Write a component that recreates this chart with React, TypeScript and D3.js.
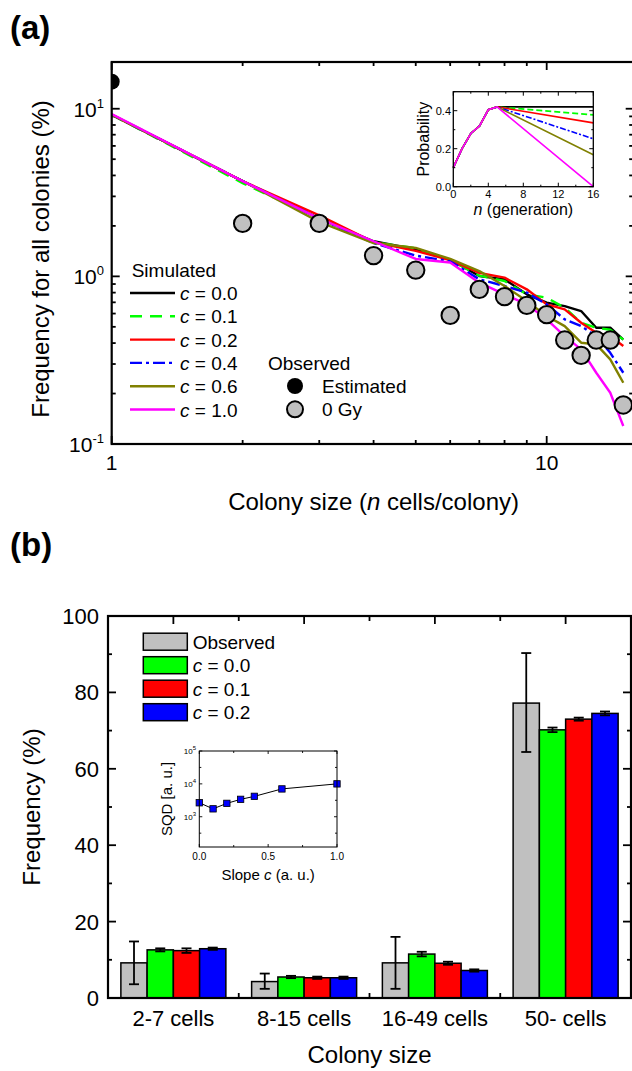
import React from "react";
import * as d3 from "d3";

// ---------- Panel (a) data ----------
const colonySizes = [1, 2, 3, 4, 5, 6, 7, 8, 9, 10, 11, 12, 13, 14, 15];
const simC00 = [9.2, 3.7, 2.21, 1.62, 1.45, 1.26, 1.005, 0.96, 0.781, 0.697, 0.665, 0.621, 0.494, 0.494, 0.42];
const simC01 = [9.2, 3.6, 2.21, 1.6, 1.47, 1.25, 1.01, 0.938, 0.781, 0.746, 0.65, 0.529, 0.494, 0.48, 0.42];
const simC02 = [9.2, 3.7, 2.31, 1.6, 1.42, 1.25, 1.05, 0.982, 0.837, 0.681, 0.635, 0.529, 0.461, 0.44, 0.384];
const simC04 = [9.2, 3.7, 2.21, 1.58, 1.33, 1.23, 0.96, 0.876, 0.8, 0.681, 0.554, 0.505, 0.44, 0.35, 0.266];
const simC06 = [9.2, 3.7, 2.11, 1.58, 1.48, 1.27, 1.076, 0.876, 0.712, 0.58, 0.505, 0.402, 0.393, 0.32, 0.232];
const simC10 = [9.3, 3.7, 2.21, 1.62, 1.27, 1.21, 0.917, 0.781, 0.681, 0.554, 0.44, 0.367, 0.266, 0.202, 0.128];

const observedSizes = [2, 3, 4, 5, 6, 7, 8, 9, 10, 11, 12, 13, 14, 15];
const observed0Gy = [2.07, 2.07, 1.33, 1.09, 0.585, 0.836, 0.757, 0.671, 0.591, 0.417, 0.338, 0.417, 0.417, 0.171];
const estimatedSize = [1];
const estimatedValue = [14.5];

const simLabels = ["0.0", "0.1", "0.2", "0.4", "0.6", "1.0"];
const simColors = ["#000000", "#00ff00", "#ff0000", "#0000ff", "#808000", "#ff00ff"];
const simDash = ["", "12,8", "", "12,4,3,4", "", ""];

// inset (a): probability vs generation
const genRise = [0, 1, 2, 3, 4, 5];
const probRise = [0.1, 0.2, 0.28, 0.32, 0.405, 0.42];
const genTail = [5, 16];
const probTailEnds = [0.42, 0.378, 0.336, 0.252, 0.168, 0.0];

// ---------- Panel (b) data ----------
const categories = ["2-7 cells", "8-15 cells", "16-49 cells", "50- cells"];
const seriesKeys = ["Observed", "c0.0", "c0.1", "c0.2"];
const observedFreq = [9.2, 4.3, 9.2, 77.2];
const observedErrLow = [3.6, 2.4, 2.4, 64.4];
const observedErrHigh = [14.8, 6.4, 16.0, 90.3];
const simFreqC00 = [12.6, 5.5, 11.5, 70.2];
const simErrC00 = [0.4, 0.3, 0.6, 0.6];
const simFreqC01 = [12.4, 5.3, 9.1, 73.0];
const simErrC01 = [0.6, 0.3, 0.4, 0.4];
const simFreqC02 = [12.9, 5.3, 7.2, 74.5];
const simErrC02 = [0.3, 0.3, 0.3, 0.5];
const barColors = ["#c0c0c0", "#00ff00", "#ff0000", "#0000ff"];
const barLegend = ["Observed", "0.0", "0.1", "0.2"];

// inset (b): SQD vs slope
const slopeC = [0, 0.1, 0.2, 0.3, 0.4, 0.6, 1.0];
const sqd = [2660, 1740, 2550, 3380, 4170, 7020, 10000];

const FONT = "'Liberation Sans', Arial, Helvetica, sans-serif";

export default function App() {
  // ===== Panel (a) scales =====
  const xA = d3.scaleLog().domain([1, 15.85]).range([111.7, 633.7]);
  const yA = d3.scaleLog().domain([0.1, 19]).range([444, 62]);
  const [ax0, ax1] = xA.range();
  const [ayB, ayT] = yA.range();

  const simSeries = [simC00, simC01, simC02, simC04, simC06, simC10];
  const lineA = d3
    .line<[number, number]>()
    .x((d) => xA(d[0]))
    .y((d) => yA(d[1]));

  const xMajorA = [1, 10];
  const xMinorA = [2, 3, 4, 5, 6, 7, 8, 9];
  const yMajorA = [0.1, 1, 10];
  const yMinorA = [0.2, 0.3, 0.4, 0.5, 0.6, 0.7, 0.8, 0.9, 2, 3, 4, 5, 6, 7, 8, 9];
  const yExp = ["-1", "0", "1"];

  // inset (a)
  const xI = d3.scaleLinear().domain([0, 16]).range([453.3, 593.3]);
  const yI = d3.scaleLinear().domain([0, 0.5]).range([186.7, 91.7]);
  const lineI = d3
    .line<[number, number]>()
    .x((d) => xI(d[0]))
    .y((d) => yI(d[1]));

  // ===== Panel (b) scales =====
  const xB = d3.scaleBand<string>().domain(categories).range([108, 631]).paddingInner(0.197).paddingOuter(0.0985);
  const xSub = d3.scaleBand<string>().domain(seriesKeys).range([0, xB.bandwidth()]);
  const yB = d3.scaleLinear().domain([0, 100]).range([998, 616]);
  const [bx0, bx1] = xB.range();
  const step = xB.step();
  const barVals = [observedFreq, simFreqC00, simFreqC01, simFreqC02];
  const simErrs = [null, simErrC00, simErrC01, simErrC02];

  // inset (b)
  const xS = d3.scaleLinear().domain([0, 1]).range([199.3, 337]);
  const yS = d3.scaleLog().domain([120, 1e5]).range([847, 751]);
  const lineS = d3
    .line<[number, number]>()
    .x((d) => xS(d[0]))
    .y((d) => yS(d[1]));

  const legendRowsA = simLabels.map((_, i) => 293 + 23.3 * i);
  const legendRowsB = barLegend.map((_, i) => 641.7 + 23.5 * i);

  return (
    <>
      <style>{`body{margin:0;background:#fff}`}</style>
      <svg width={632} height={1071} style={{ display: "block", background: "#fff" }} fontFamily={FONT}>
        <defs>
          <clipPath id="clipA">
            <rect x={ax0} y={ayT} width={ax1 - ax0} height={ayB - ayT} />
          </clipPath>
        </defs>

        {/* ================= PANEL (a) ================= */}
        <text x={10} y={39} fontSize={33} fontWeight="bold">(a)</text>

        {/* ticks */}
        <g stroke="#000" strokeWidth={1.8}>
          {xMajorA.map((v) => (
            <g key={"xM" + v}>
              <line x1={xA(v)} x2={xA(v)} y1={ayB} y2={ayB - 8} />
              <line x1={xA(v)} x2={xA(v)} y1={ayT} y2={ayT + 8} />
            </g>
          ))}
          {xMinorA.map((v) => (
            <g key={"xm" + v}>
              <line x1={xA(v)} x2={xA(v)} y1={ayB} y2={ayB - 4} />
              <line x1={xA(v)} x2={xA(v)} y1={ayT} y2={ayT + 4} />
            </g>
          ))}
          {yMajorA.map((v) => (
            <g key={"yM" + v}>
              <line x1={ax0} x2={ax0 + 8} y1={yA(v)} y2={yA(v)} />
              <line x1={ax1} x2={ax1 - 8} y1={yA(v)} y2={yA(v)} />
            </g>
          ))}
          {yMinorA.map((v) => (
            <g key={"ym" + v}>
              <line x1={ax0} x2={ax0 + 4} y1={yA(v)} y2={yA(v)} />
              <line x1={ax1} x2={ax1 - 4.5} y1={yA(v)} y2={yA(v)} />
            </g>
          ))}
        </g>

        {/* simulated lines */}
        <g clipPath="url(#clipA)" fill="none" strokeLinejoin="round">
          {simSeries.map((s, i) => (
            <path
              key={"sim" + i}
              d={lineA(colonySizes.map((n, j) => [n, s[j]] as [number, number])) || ""}
              stroke={simColors[i]}
              strokeWidth={2.4}
              strokeDasharray={simDash[i] || undefined}
            />
          ))}
          {estimatedSize.map((n, i) => (
            <circle key={"est" + i} cx={xA(n)} cy={yA(estimatedValue[i])} r={8} fill="#000" />
          ))}
          {observedSizes.map((n, i) => (
            <circle
              key={"obs" + i}
              cx={xA(n)}
              cy={yA(observed0Gy[i])}
              r={8.7}
              fill="#c0c0c0"
              stroke="#000"
              strokeWidth={2}
            />
          ))}
        </g>

        {/* frame */}
        <rect x={ax0} y={ayT} width={ax1 - ax0} height={ayB - ayT} fill="none" stroke="#000" strokeWidth={2.2} />

        {/* tick labels */}
        <g fontSize={21} fill="#000">
          {xMajorA.map((v) => (
            <text key={"xl" + v} x={xA(v)} y={470} textAnchor="middle">
              {String(v)}
            </text>
          ))}
          {yMajorA.map((v, i) => (
            <text key={"yl" + v} x={104} y={yA(v) + 8} textAnchor="end">
              <tspan>10</tspan>
              <tspan dy={-9} fontSize={13}>
                {yExp[i]}
              </tspan>
            </text>
          ))}
        </g>

        {/* axis titles */}
        <text x={(111.7 + 635.5) / 2} y={510} fontSize={24} textAnchor="middle">
          Colony size (<tspan fontStyle="italic">n</tspan> cells/colony)
        </text>
        <text transform={`translate(49, ${(ayB + ayT) / 2 + 6}) rotate(-90)`} fontSize={24} textAnchor="middle">
          Frequency for all colonies (%)
        </text>

        {/* legend */}
        <g fontSize={19}>
          <text x={131.7} y={277}>Simulated</text>
          {simLabels.map((lab, i) => (
            <g key={"lg" + i}>
              <line
                x1={130}
                x2={175}
                y1={legendRowsA[i]}
                y2={legendRowsA[i]}
                stroke={simColors[i]}
                strokeWidth={2.4}
                strokeDasharray={simDash[i] || undefined}
              />
              <text x={180} y={legendRowsA[i] + 7}>
                <tspan fontStyle="italic">c</tspan>
                {" = " + lab}
              </text>
            </g>
          ))}
          <text x={268} y={370}>Observed</text>
          <circle cx={295} cy={386} r={8} fill="#000" />
          <text x={322} y={393}>Estimated</text>
          <circle cx={295} cy={409.3} r={8} fill="#c0c0c0" stroke="#000" strokeWidth={2} />
          <text x={322} y={416}>0 Gy</text>
        </g>

        {/* inset (a) */}
        <g>
          <rect x={xI(0)} y={yI(0.5)} width={xI(16) - xI(0)} height={yI(0) - yI(0.5)} fill="#fff" />
          <g fill="none" strokeWidth={1.6}>
            {probTailEnds.map((pEnd, i) => (
              <path
                key={"in" + i}
                d={
                  lineI([
                    ...genRise.map((g, j) => [g, probRise[j]] as [number, number]),
                    [genTail[1], pEnd] as [number, number],
                  ]) || ""
                }
                stroke={simColors[i]}
                strokeDasharray={simDash[i] ? (i === 1 ? "6,3" : "6,2,2,2") : undefined}
              />
            ))}
          </g>
          <g stroke="#000" strokeWidth={1}>
            {[0, 4, 8, 12, 16].map((v) => (
              <g key={"ixM" + v}>
                <line x1={xI(v)} x2={xI(v)} y1={yI(0)} y2={yI(0) - 4} />
                <line x1={xI(v)} x2={xI(v)} y1={yI(0.5)} y2={yI(0.5) + 4} />
              </g>
            ))}
            {[2, 6, 10, 14].map((v) => (
              <g key={"ixm" + v}>
                <line x1={xI(v)} x2={xI(v)} y1={yI(0)} y2={yI(0) - 2} />
                <line x1={xI(v)} x2={xI(v)} y1={yI(0.5)} y2={yI(0.5) + 2} />
              </g>
            ))}
            {[0, 0.2, 0.4].map((v) => (
              <g key={"iyM" + v}>
                <line x1={xI(0)} x2={xI(0) + 4} y1={yI(v)} y2={yI(v)} />
                <line x1={xI(16)} x2={xI(16) - 4} y1={yI(v)} y2={yI(v)} />
              </g>
            ))}
            {[0.1, 0.3, 0.5].map((v) => (
              <g key={"iym" + v}>
                <line x1={xI(0)} x2={xI(0) + 2} y1={yI(v)} y2={yI(v)} />
                <line x1={xI(16)} x2={xI(16) - 2} y1={yI(v)} y2={yI(v)} />
              </g>
            ))}
          </g>
          <rect
            x={xI(0)}
            y={yI(0.5)}
            width={xI(16) - xI(0)}
            height={yI(0) - yI(0.5)}
            fill="none"
            stroke="#000"
            strokeWidth={1.3}
          />
          <g fontSize={11}>
            {[0, 4, 8, 12, 16].map((v) => (
              <text key={"ixl" + v} x={xI(v)} y={197.5} textAnchor="middle">
                {String(v)}
              </text>
            ))}
            {[0, 0.2, 0.4].map((v) => (
              <text key={"iyl" + v} x={451} y={yI(v) + 4} textAnchor="end">
                {v.toFixed(1)}
              </text>
            ))}
          </g>
          <text x={(xI(0) + xI(16)) / 2} y={214.5} fontSize={16} textAnchor="middle">
            <tspan fontStyle="italic">n</tspan> (generation)
          </text>
          <text transform={`translate(429, ${(yI(0) + yI(0.5)) / 2}) rotate(-90)`} fontSize={16} textAnchor="middle">
            Probability
          </text>
        </g>

        {/* ================= PANEL (b) ================= */}
        <text x={10} y={556} fontSize={33} fontWeight="bold">(b)</text>

        {/* ticks */}
        <g stroke="#000" strokeWidth={1.8}>
          {d3.range(0, 101, 20).map((v) => (
            <g key={"byM" + v}>
              <line x1={bx0} x2={bx0 + 8} y1={yB(v)} y2={yB(v)} />
              <line x1={bx1} x2={bx1 - 8} y1={yB(v)} y2={yB(v)} />
            </g>
          ))}
          {d3.range(10, 100, 20).map((v) => (
            <g key={"bym" + v}>
              <line x1={bx0} x2={bx0 + 4} y1={yB(v)} y2={yB(v)} />
              <line x1={bx1} x2={bx1 - 4} y1={yB(v)} y2={yB(v)} />
            </g>
          ))}
          {categories.map((c) => {
            const cx = (xB(c) as number) + xB.bandwidth() / 2;
            return (
              <g key={"bxM" + c}>
                <line x1={cx} x2={cx} y1={yB(0)} y2={yB(0) - 8} />
                <line x1={cx} x2={cx} y1={yB(100)} y2={yB(100) + 8} />
              </g>
            );
          })}
          {[1, 2, 3].map((k) => (
            <g key={"bxm" + k}>
              <line x1={bx0 + step * k} x2={bx0 + step * k} y1={yB(0)} y2={yB(0) - 5} />
              <line x1={bx0 + step * k} x2={bx0 + step * k} y1={yB(100)} y2={yB(100) + 5} />
            </g>
          ))}
        </g>

        {/* bars */}
        <g>
          {categories.map((c, ci) => (
            <g key={"grp" + c} transform={`translate(${xB(c)},0)`}>
              {seriesKeys.map((k, si) => {
                const v = barVals[si][ci];
                const x = xSub(k) as number;
                const w = xSub.bandwidth();
                const cx = x + w / 2;
                let lo: number, hi: number;
                if (si === 0) {
                  lo = observedErrLow[ci];
                  hi = observedErrHigh[ci];
                } else {
                  const e = (simErrs[si] as number[])[ci];
                  lo = v - e;
                  hi = v + e;
                }
                return (
                  <g key={k}>
                    <rect
                      x={x}
                      y={yB(v)}
                      width={w}
                      height={yB(0) - yB(v)}
                      fill={barColors[si]}
                      stroke="#000"
                      strokeWidth={1.5}
                    />
                    <g stroke="#000" strokeWidth={1.8}>
                      <line x1={cx} x2={cx} y1={yB(lo)} y2={yB(hi)} />
                      <line x1={cx - 5} x2={cx + 5} y1={yB(lo)} y2={yB(lo)} />
                      <line x1={cx - 5} x2={cx + 5} y1={yB(hi)} y2={yB(hi)} />
                    </g>
                  </g>
                );
              })}
            </g>
          ))}
        </g>

        {/* frame */}
        <rect x={bx0} y={yB(100)} width={bx1 - bx0} height={yB(0) - yB(100)} fill="none" stroke="#000" strokeWidth={2.2} />

        {/* tick labels */}
        <g fontSize={22}>
          {d3.range(0, 101, 20).map((v) => (
            <text key={"byl" + v} x={99} y={yB(v) + 8} textAnchor="end">
              {String(v)}
            </text>
          ))}
          {categories.map((c) => (
            <text key={"bxl" + c} x={(xB(c) as number) + xB.bandwidth() / 2} y={1026} textAnchor="middle">
              {c}
            </text>
          ))}
        </g>
        <text x={(bx0 + bx1) / 2} y={1063} fontSize={24} textAnchor="middle">
          Colony size
        </text>
        <text transform={`translate(40, ${(yB(0) + yB(100)) / 2}) rotate(-90)`} fontSize={24} textAnchor="middle">
          Frequency (%)
        </text>

        {/* legend (b) */}
        <g fontSize={19}>
          {barLegend.map((lab, i) => (
            <g key={"blg" + i}>
              <rect
                x={143.3}
                y={legendRowsB[i] - 8.5}
                width={44}
                height={17}
                fill={barColors[i]}
                stroke="#000"
                strokeWidth={1.5}
              />
              <text x={192.7} y={legendRowsB[i] + 7}>
                {i === 0 ? (
                  lab
                ) : (
                  <>
                    <tspan fontStyle="italic">c</tspan>
                    {" = " + lab}
                  </>
                )}
              </text>
            </g>
          ))}
        </g>

        {/* inset (b) */}
        <g>
          <g stroke="#000" strokeWidth={0.9}>
            {[0, 0.5, 1].map((v) => (
              <g key={"sxM" + v}>
                <line x1={xS(v)} x2={xS(v)} y1={yS.range()[0]} y2={yS.range()[0] - 3} />
                <line x1={xS(v)} x2={xS(v)} y1={yS.range()[1]} y2={yS.range()[1] + 3} />
              </g>
            ))}
            {[0.25, 0.75].map((v) => (
              <g key={"sxm" + v}>
                <line x1={xS(v)} x2={xS(v)} y1={yS.range()[0]} y2={yS.range()[0] - 2} />
                <line x1={xS(v)} x2={xS(v)} y1={yS.range()[1]} y2={yS.range()[1] + 2} />
              </g>
            ))}
            {[1e3, 1e4, 1e5].map((v) => (
              <g key={"syM" + v}>
                <line x1={xS(0)} x2={xS(0) + 3} y1={yS(v)} y2={yS(v)} />
                <line x1={xS(1)} x2={xS(1) - 3} y1={yS(v)} y2={yS(v)} />
              </g>
            ))}
            {[Math.sqrt(10) * 100, Math.sqrt(10) * 1000, Math.sqrt(10) * 1e4].map((v) => (
              <g key={"sym" + v}>
                <line x1={xS(0)} x2={xS(0) + 2} y1={yS(v)} y2={yS(v)} />
                <line x1={xS(1)} x2={xS(1) - 2} y1={yS(v)} y2={yS(v)} />
              </g>
            ))}
          </g>
          <path
            d={lineS(slopeC.map((c, i) => [c, sqd[i]] as [number, number])) || ""}
            fill="none"
            stroke="#000"
            strokeWidth={1}
          />
          {slopeC.map((c, i) => (
            <rect
              key={"sq" + i}
              x={xS(c) - 3.2}
              y={yS(sqd[i]) - 3.2}
              width={6.4}
              height={6.4}
              fill="#0000ff"
              stroke="#000"
              strokeWidth={0.8}
            />
          ))}
          <rect
            x={xS(0)}
            y={yS.range()[1]}
            width={xS(1) - xS(0)}
            height={yS.range()[0] - yS.range()[1]}
            fill="none"
            stroke="#000"
            strokeWidth={1}
          />
          <g fontSize={8}>
            {[1e3, 1e4, 1e5].map((v, i) => (
              <text key={"syl" + v} x={196} y={yS(v) + 3} textAnchor="end">
                <tspan>10</tspan>
                <tspan dy={-4} fontSize={6}>
                  {String(3 + i)}
                </tspan>
              </text>
            ))}
          </g>
          <g fontSize={10}>
            {[0, 0.5, 1].map((v) => (
              <text key={"sxl" + v} x={xS(v)} y={860} textAnchor="middle">
                {v.toFixed(1)}
              </text>
            ))}
          </g>
          <text x={(xS(0) + xS(1)) / 2} y={880} fontSize={15} textAnchor="middle">
            Slope <tspan fontStyle="italic">c</tspan> (a. u.)
          </text>
          <text transform={`translate(172, ${(yS.range()[0] + yS.range()[1]) / 2}) rotate(-90)`} fontSize={15} textAnchor="middle">
            SQD [a. u.]
          </text>
        </g>
      </svg>
    </>
  );
}
